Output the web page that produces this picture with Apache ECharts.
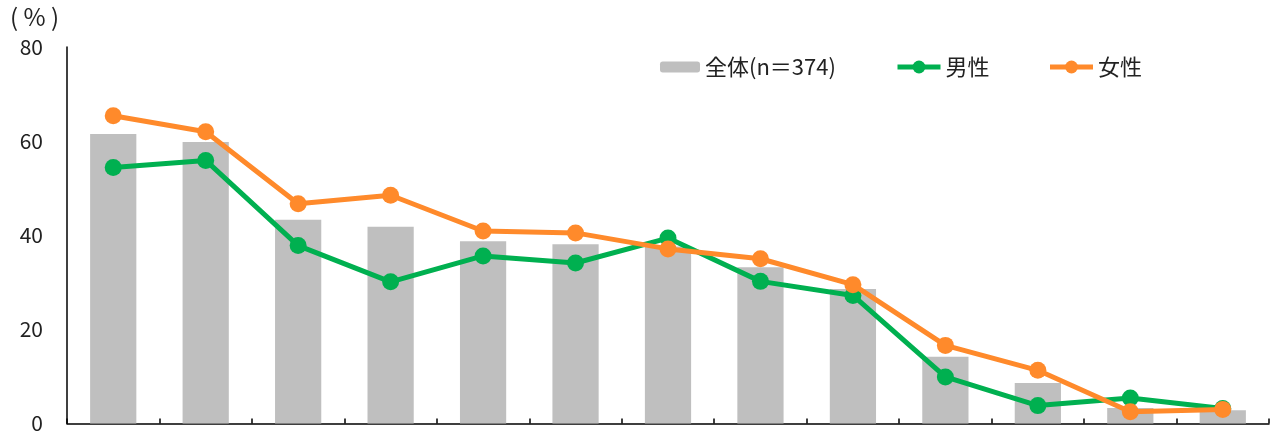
<!DOCTYPE html>
<html>
<head>
<meta charset="utf-8">
<script src="https://cdn.jsdelivr.net/npm/echarts@6/dist/echarts.min.js"></script>
<style>
  html, body { margin: 0; padding: 0; background: #fff; }
  #chart { width: 1274px; height: 434px; }
</style>
</head>
<body>
<div id="chart"></div>
<script>
// Item categories (labels are not shown on the axis)
const categories = ['1', '2', '3', '4', '5', '6', '7', '8', '9', '10', '11', '12', '13'];
// Share of respondents (%)
const totalValues  = [61.5, 59.8, 43.3, 41.8, 38.7, 38.1, 37.6, 33.2, 28.6, 14.2, 8.6, 3.3, 2.8];
const maleValues   = [54.4, 55.9, 37.8, 30.1, 35.6, 34.1, 39.4, 30.2, 27.2, 9.9, 3.8, 5.4, 3.2];
const femaleValues = [65.4, 62.0, 46.7, 48.5, 40.9, 40.5, 37.1, 35.0, 29.5, 16.6, 11.3, 2.5, 3.0];
const yTicks = [0, 20, 40, 60, 80];

const FONT = '"Noto Sans CJK JP", "Noto Sans", sans-serif';
const TEXT = '#222';
const GRAY = '#BFBFBF';
const GREEN = '#00B050';
const ORANGE = '#FF8A2B';

const chart = echarts.init(document.getElementById('chart'), null, { renderer: 'canvas' });

const legendText = { fontFamily: FONT, fontSize: 22, color: TEXT };

chart.setOption({
  animation: false,
  textStyle: { fontFamily: FONT, color: TEXT },
  title: {
    text: '( % )',
    left: 10, top: 5, padding: 0,
    textStyle: { fontFamily: FONT, fontSize: 24, fontWeight: 'normal', color: TEXT }
  },
  legend: [
    {
      left: 660, top: 56, padding: 0,
      itemWidth: 40, itemHeight: 11,
      textStyle: legendText,
      data: ['全体(n＝374)']
    },
    {
      left: 895, top: 56, padding: 0,
      itemWidth: 43, itemHeight: 16,
      itemGap: 58,
      textStyle: legendText,
      data: [
        { name: '男性', lineStyle: { width: 5 } },
        { name: '女性', lineStyle: { width: 5 } }
      ]
    }
  ],
  grid: { left: 67, right: 5, top: 47, bottom: 10, containLabel: false },
  xAxis: {
    type: 'category',
    data: categories,
    boundaryGap: true,
    axisLine: { lineStyle: { color: '#000', width: 1.5 } },
    axisTick: { show: true, inside: true, length: 5, lineStyle: { color: '#000', width: 1.5 } },
    axisLabel: { show: false },
    splitLine: { show: false }
  },
  yAxis: {
    type: 'value',
    min: yTicks[0], max: yTicks[yTicks.length - 1], interval: 20,
    axisLine: { show: true, lineStyle: { color: '#000', width: 1.5 } },
    axisTick: { show: false },
    splitLine: { show: false },
    axisLabel: { fontFamily: FONT, fontSize: 21, color: TEXT, margin: 24 }
  },
  series: [
    {
      name: '全体(n＝374)',
      type: 'bar',
      data: totalValues,
      barWidth: '50%',
      itemStyle: { color: GRAY }
    },
    {
      name: '男性',
      type: 'line',
      data: maleValues,
      symbol: 'circle',
      symbolSize: 17,
      lineStyle: { color: GREEN, width: 5 },
      itemStyle: { color: GREEN },
      z: 3
    },
    {
      name: '女性',
      type: 'line',
      data: femaleValues,
      symbol: 'circle',
      symbolSize: 17,
      lineStyle: { color: ORANGE, width: 5 },
      itemStyle: { color: ORANGE },
      z: 4
    }
  ]
});
</script>
</body>
</html>
